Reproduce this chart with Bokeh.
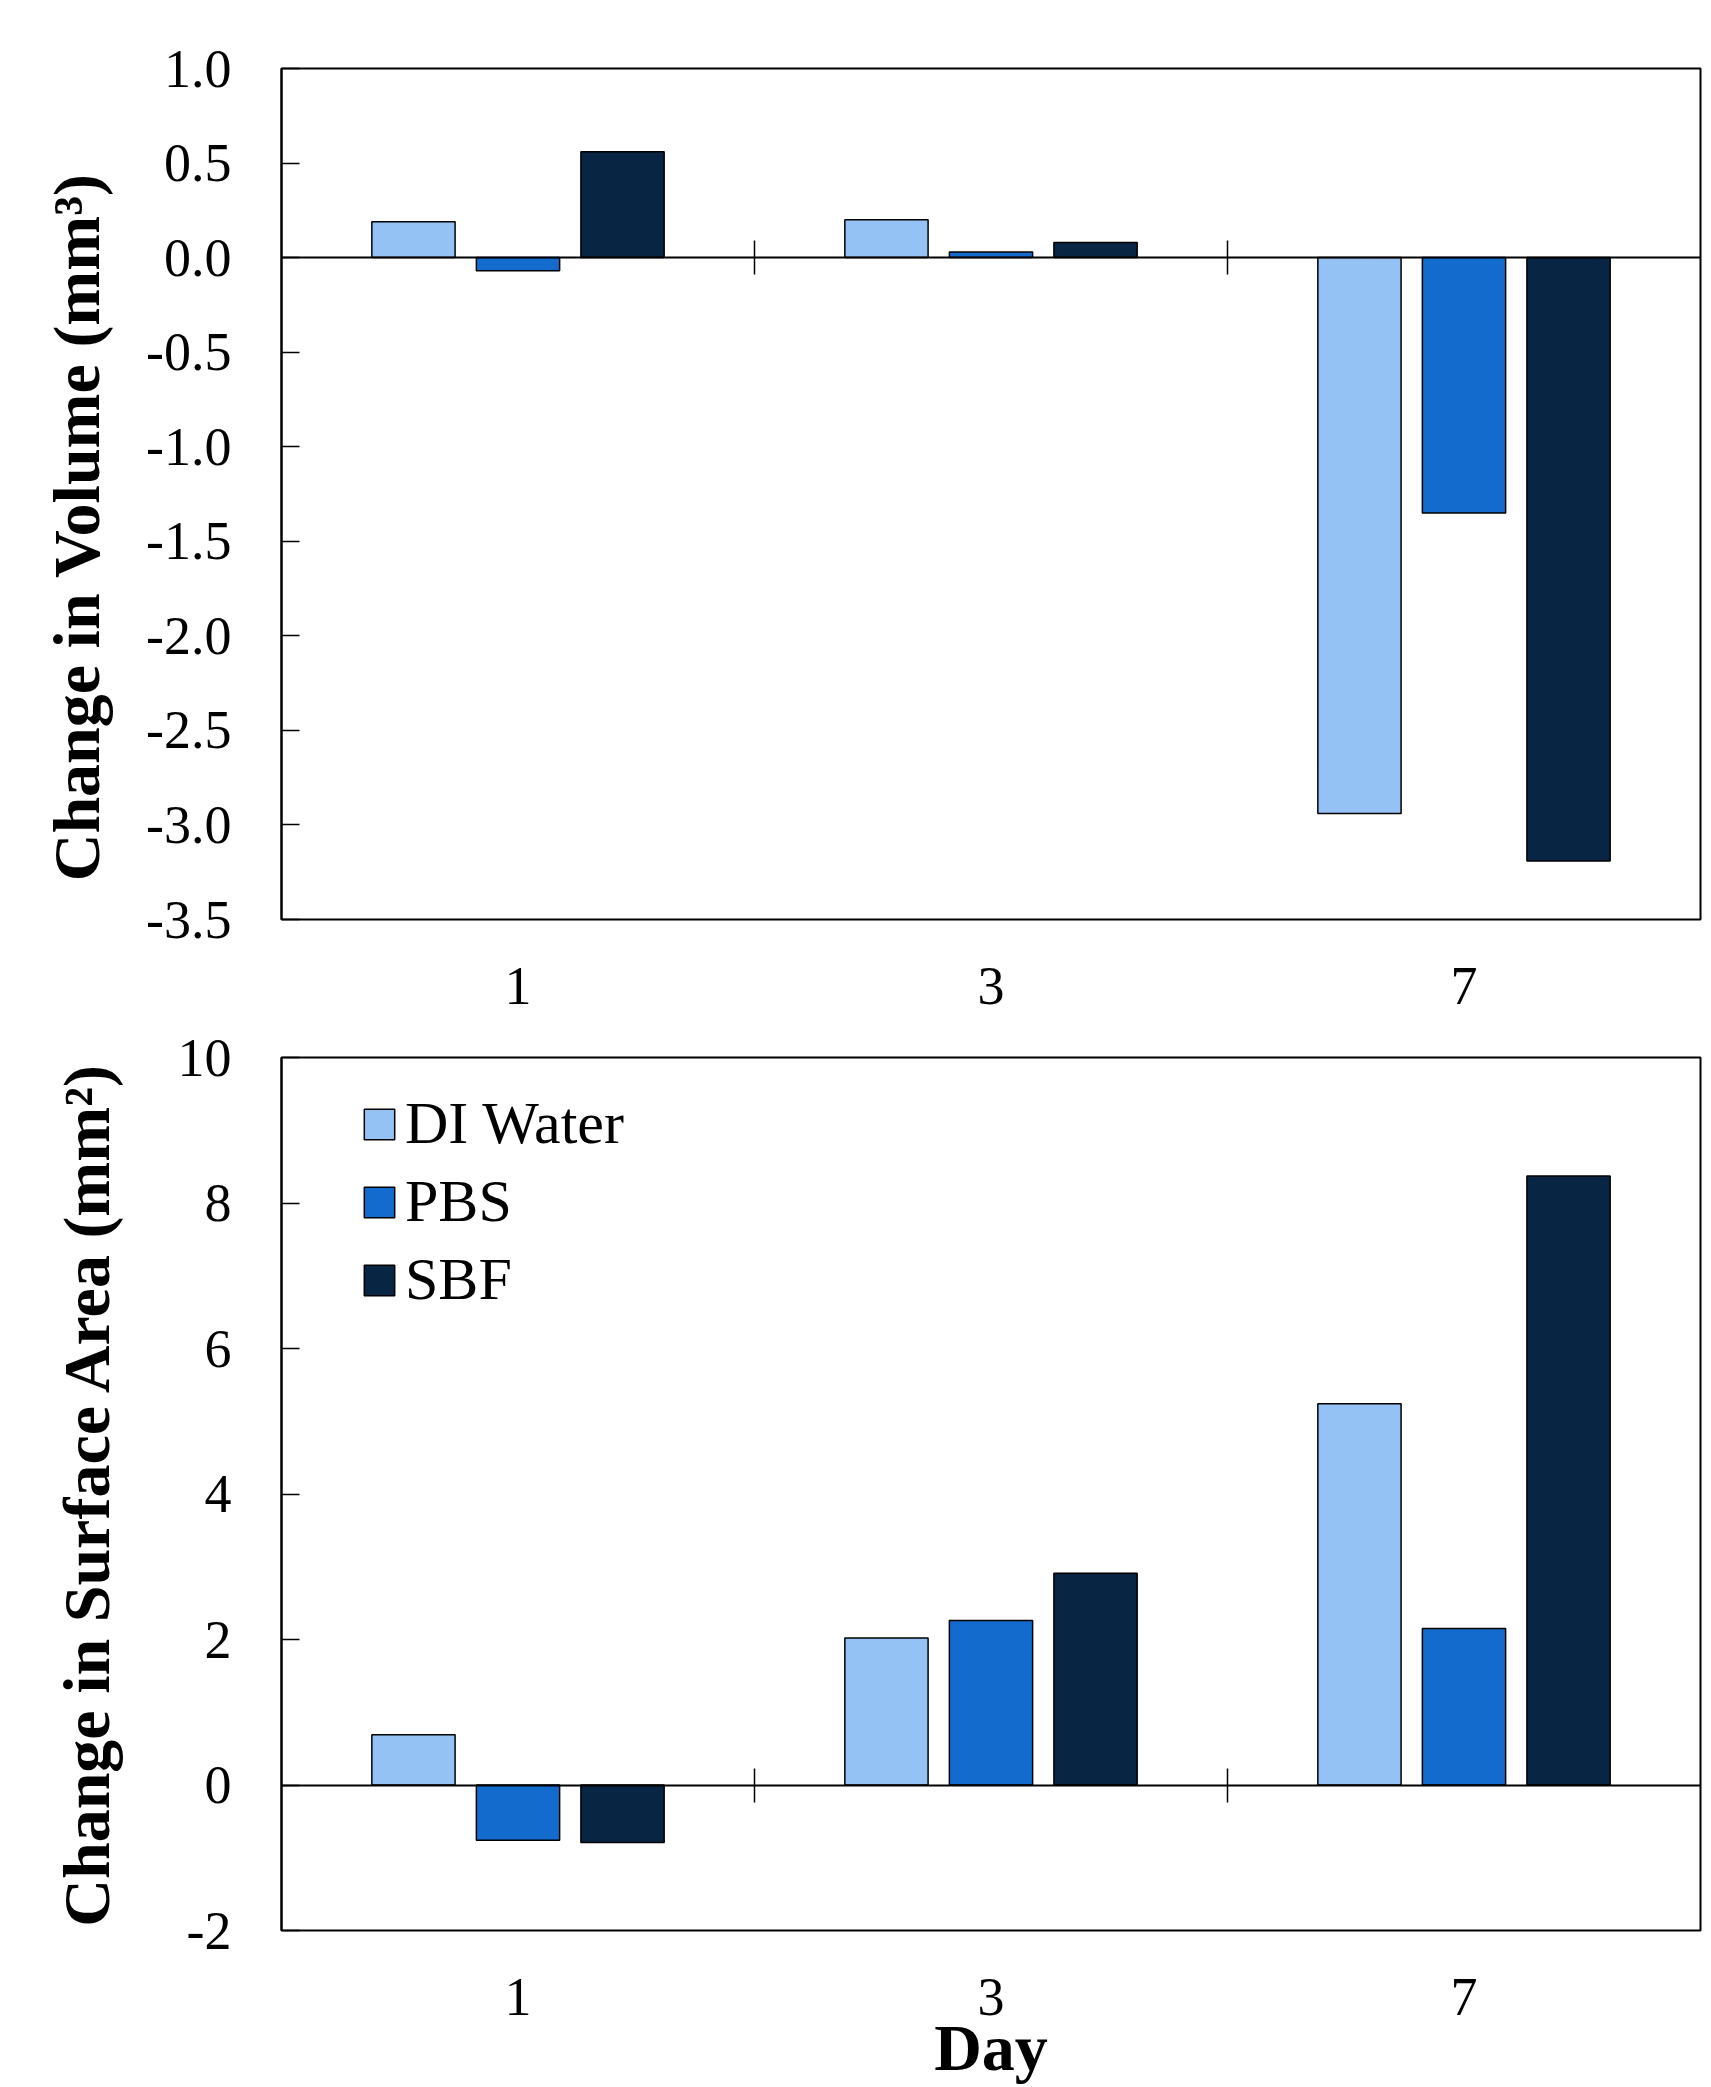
from bokeh.plotting import figure
from bokeh.models import (ColumnDataSource, Range1d, LinearAxis, FixedTicker,
                          PrintfTickFormatter, Legend, LegendItem)
from bokeh.transform import dodge
from bokeh.layouts import column
from bokeh.embed import file_html
from bokeh.resources import INLINE

# ---------------- data ----------------
days = ["1", "3", "7"]
series = ["DI Water", "PBS", "SBF"]
colors = ["#95C2F4", "#136BCE", "#082544"]

volume_di = [0.19, 0.20, -2.94]
volume_pbs = [-0.07, 0.03, -1.35]
volume_sbf = [0.56, 0.08, -3.19]

area_di = [0.69, 2.02, 5.24]
area_pbs = [-0.76, 2.26, 2.15]
area_sbf = [-0.79, 2.91, 8.37]

volume_ticks = [-3.5, -3.0, -2.5, -2.0, -1.5, -1.0, -0.5, 0.0, 0.5, 1.0]
area_ticks = [-2, 0, 2, 4, 6, 8, 10]

FONT = "Liberation Serif"
TICK_PX = "54px"
LABEL_PX = "66px"
LEGEND_PX = "60px"
W = 1705
BAR_W = 0.176
OFFS = [-0.221, 0.0, 0.221]
NBSP = "\u00a0"


def make_fig(height, ylo, yhi, ticks, fmt, ylabel, border, label_standoff, xlabel=None):
    xidx = list(range(len(days)))
    p = figure(width=W, height=height, output_backend="svg", toolbar_location=None,
               x_range=Range1d(-0.5, len(days) - 0.5), y_range=Range1d(ylo, yhi),
               min_border_left=border[0], min_border_right=border[1],
               min_border_top=border[2], min_border_bottom=border[3])
    p.grid.visible = False
    p.outline_line_color = "black"
    p.outline_line_width = 2
    p.background_fill_color = "white"
    p.border_fill_color = "white"

    # zero line with category separators (fixed axis)
    xa = p.xaxis[0]
    xa.fixed_location = 0
    xa.ticker = FixedTicker(ticks=[i + 0.5 for i in xidx[:-1]])
    xa.major_tick_in = 17
    xa.major_tick_out = 17
    xa.major_tick_line_width = 1.5
    xa.minor_tick_line_color = None
    xa.axis_line_width = 2
    xa.major_label_text_color = None

    # category labels at the bottom
    lab = LinearAxis(ticker=FixedTicker(ticks=xidx),
                     major_label_overrides={i: d for i, d in zip(xidx, days)})
    lab.axis_line_color = None
    lab.major_tick_line_color = None
    lab.minor_tick_line_color = None
    lab.major_tick_out = 0
    lab.minor_tick_out = 0
    lab.major_label_standoff = 48
    lab.major_label_text_font = FONT
    lab.major_label_text_font_size = TICK_PX
    lab.major_label_text_color = "black"
    if xlabel is not None:
        lab.axis_label = xlabel
        lab.axis_label_standoff = -7
        lab.axis_label_text_font = FONT
        lab.axis_label_text_font_size = LABEL_PX
        lab.axis_label_text_font_style = "bold"
        lab.axis_label_text_color = "black"
    p.add_layout(lab, "below")

    ya = p.yaxis[0]
    ya.ticker = FixedTicker(ticks=ticks)
    ya.formatter = PrintfTickFormatter(format=fmt)
    ya.major_tick_in = 18
    ya.major_tick_out = 0
    ya.major_tick_line_width = 1.5
    ya.minor_tick_line_color = None
    ya.axis_line_width = 2
    ya.major_label_standoff = 50
    ya.major_label_text_font = FONT
    ya.major_label_text_font_size = TICK_PX
    ya.major_label_text_color = "black"
    ya.axis_label = ylabel
    ya.axis_label_text_font = FONT
    ya.axis_label_text_font_size = LABEL_PX
    ya.axis_label_text_font_style = "bold"
    ya.axis_label_text_color = "black"
    ya.axis_label_standoff = label_standoff
    return p


def add_bars(p, vals):
    src = ColumnDataSource(dict(x=list(range(len(days))),
                                a=vals[0], b=vals[1], c=vals[2]))
    rs = []
    for key, off, col in zip(["a", "b", "c"], OFFS, colors):
        r = p.vbar(x=dodge("x", off, range=p.x_range), top=key, width=BAR_W, source=src,
                   fill_color=col, line_color="black", line_width=1.5)
        rs.append(r)
    return rs


H1 = 1027
H2 = 2087 - H1

p1 = make_fig(H1, -3.5, 1.0, volume_ticks, "%.1f",
              "Change in Volume (mm³)" + NBSP * 4,
              (281, W - 1700, 68, H1 - 919), 30)
add_bars(p1, [volume_di, volume_pbs, volume_sbf])

p2 = make_fig(H2, -2, 10, area_ticks, "%d", "Change in Surface Area (mm²)",
              (270, W - 1701, 1057 - H1, H2 - (1930 - H1)), 52, xlabel="Day")
rs = add_bars(p2, [area_di, area_pbs, area_sbf])

legend = Legend(items=[LegendItem(label=s, renderers=[r]) for s, r in zip(series, rs)],
                location=(79, 616), padding=0, margin=0, spacing=9,
                glyph_width=38, glyph_height=38, label_standoff=7,
                label_text_font=FONT, label_text_font_size=LEGEND_PX,
                label_text_color="black",
                border_line_color=None, background_fill_alpha=0)
p2.add_layout(legend, "center")

layout = column(p1, p2, spacing=0)
open("out.html", "w").write(file_html(layout, INLINE))
